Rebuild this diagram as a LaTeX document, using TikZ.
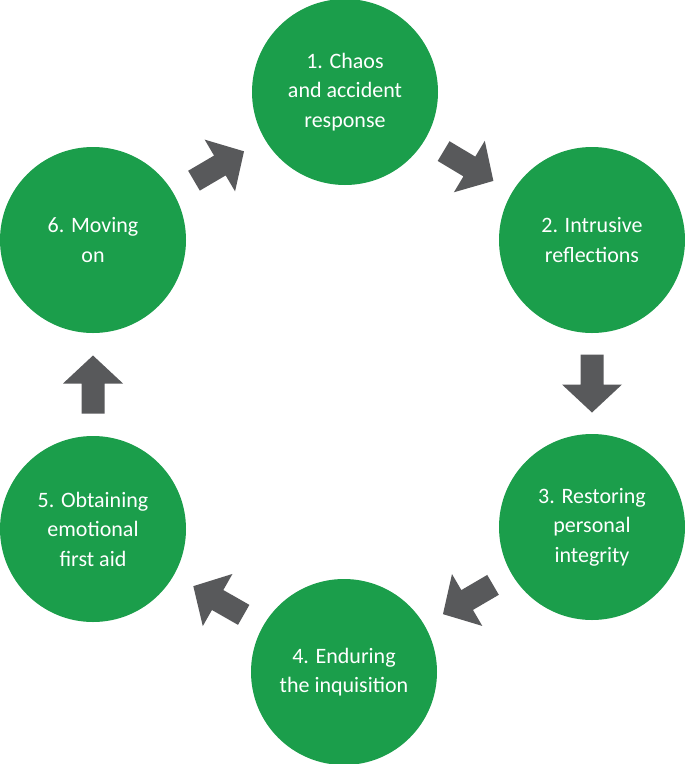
\documentclass[tikz,border=0pt]{standalone}
\usepackage{fontspec}
\setmainfont{Carlito}
\usetikzlibrary{calc}
\definecolor{stagegreen}{RGB}{27,158,75}
\definecolor{arrowgray}{RGB}{88,89,91}
\tikzset{
  stage/.style={circle, fill=stagegreen, draw=none, minimum size=186pt, inner sep=0pt,
    text=white, align=center, font=\fontsize{22}{29.5}\selectfont},
}
\newcommand\flowarrow[2]{%
  \coordinate (m) at ($(#1.center)!0.5!(#2.center)$);
  \coordinate (t) at ($(m)!-29pt!(#2.center)$);
  \coordinate (h) at ($(m)!1pt!(#2.center)$);
  \coordinate (p) at ($(m)!29pt!(#2.center)$);
  \fill[arrowgray] ($(t)!11.5pt!90:(#2.center)$) -- ($(h)!11.5pt!90:(#2.center)$)
    -- ($(h)!30pt!90:(#2.center)$) -- (p) -- ($(h)!30pt!-90:(#2.center)$)
    -- ($(h)!11.5pt!-90:(#2.center)$) -- ($(t)!11.5pt!-90:(#2.center)$) -- cycle;%
}
\begin{document}
\begin{tikzpicture}[x=1pt,y=-1pt]
\useasboundingbox (0,0) rectangle (685,764);
\fill[white] (0,0) rectangle (685,764);
\node[stage] (c1) at (345,92) {1. Chaos\\and accident\\response};
\node[stage] (c2) at (592,240) {2. Intrusive\\reflections};
\node[stage] (c3) at (592,527) {3. Restoring\\personal\\integrity};
\node[stage] (c4) at (344,672) {4. Enduring\\the inquisition};
\node[stage] (c5) at (93,529) {5. Obtaining\\emotional\\first aid};
\node[stage] (c6) at (93,240) {6. Moving\\on};
\flowarrow{c1}{c2}
\flowarrow{c2}{c3}
\flowarrow{c3}{c4}
\flowarrow{c4}{c5}
\flowarrow{c5}{c6}
\flowarrow{c6}{c1}
\end{tikzpicture}
\end{document}
